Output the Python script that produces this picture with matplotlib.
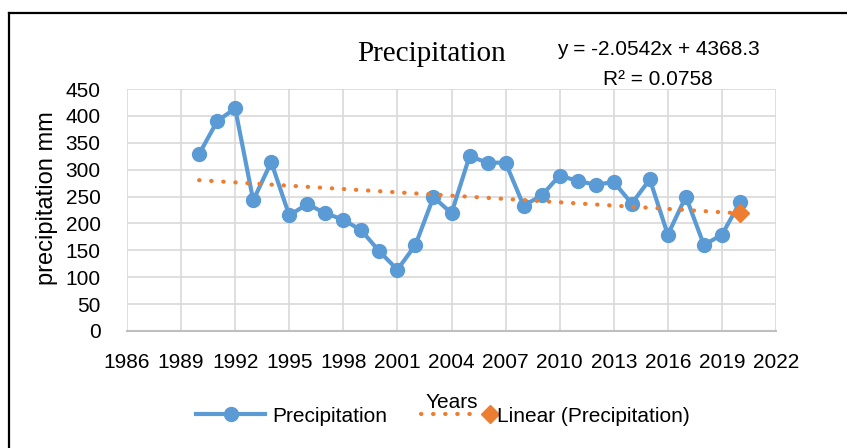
import matplotlib.pyplot as plt
from matplotlib.lines import Line2D
from matplotlib.legend_handler import HandlerLine2D

years = list(range(1990, 2021))
precip = [329, 390, 414, 243, 314, 215, 236, 219, 207, 187, 148, 114, 160, 249, 219,
          325, 313, 313, 233, 252, 289, 279, 272, 277, 237, 282, 179, 250, 160, 179, 239]

# trendline as printed on the chart
slope = -2.0542
intercept = 4368.3
trend_years = [1990, 2020]

x_ticks = list(range(1986, 2023, 3))
y_ticks = list(range(0, 451, 50))

blue = "#5B9BD5"
orange = "#ED7D31"
sans = ["Liberation Sans", "DejaVu Sans"]


class EndMarkerHandler(HandlerLine2D):
    # excel puts the trendline marker at the right end of the legend key
    def create_artists(self, legend, orig_handle, xdescent, ydescent, width, height,
                       fontsize, trans):
        y = (height - ydescent) / 2
        line = Line2D([-xdescent, -xdescent + width - 10], [y, y])
        self.update_prop(line, orig_handle, legend)
        line.set_marker("None")
        line.set_transform(trans)
        mark = Line2D([-xdescent + width], [y])
        self.update_prop(mark, orig_handle, legend)
        mark.set_linestyle("None")
        mark.set_markevery(None)
        mark.set_transform(trans)
        return [line, mark]


plt.rcParams["font.family"] = sans

fig = plt.figure(figsize=(8.47, 4.48), dpi=100)
ax = fig.add_axes([127 / 847, 1 - 331 / 448, 649 / 847, 242 / 448])

trend = [slope * y + intercept for y in trend_years]

ax.plot(years, precip, color=blue, lw=3, marker="o", ms=10, label="Precipitation",
        zorder=3)
trend_line, = ax.plot(trend_years, trend, color=orange, lw=3, dashes=(0.1, 2.8),
                      dash_capstyle="round", marker="D", ms=9, markevery=[-1],
                      label="Linear (Precipitation)", zorder=4)

ax.set_xlim(1986, 2022)
ax.set_ylim(0, 450)
ax.set_xticks(x_ticks)
ax.set_yticks(y_ticks)
ax.tick_params(length=0, labelsize=15, colors="black")
ax.tick_params(axis="y", pad=19)
ax.tick_params(axis="x", pad=16)
ax.grid(True, color="#D9D9D9", lw=1.2)
ax.set_axisbelow(True)
for s in ["left", "right", "top"]:
    ax.spines[s].set_visible(False)
ax.spines["bottom"].set_color("#BFBFBF")
ax.spines["bottom"].set_linewidth(1.5)

ax.set_xlabel("Years", fontsize=15)
ax.xaxis.set_label_coords(0.5, -0.255)
fig.text(47 / 847, 1 - 198 / 448, "precipitation mm", rotation=90, fontsize=17,
         ha="center", va="center")

fig.text(432 / 847, 1 - 61 / 448, "Precipitation", family="Liberation Serif",
         fontsize=21, ha="center", va="baseline")
fig.text(658 / 847, 1 - 55 / 448, "y = -2.0542x + 4368.3", fontsize=15,
         ha="center", va="baseline")
fig.text(658 / 847, 1 - 85 / 448, "R² = 0.0758", fontsize=15,
         ha="center", va="baseline")

handles, labels = ax.get_legend_handles_labels()
fig.legend(handles, labels, loc="center", bbox_to_anchor=(443 / 847, 1 - 416 / 448),
           ncol=2, frameon=False, fontsize=15, handlelength=3.3, handletextpad=0.35,
           columnspacing=1.6, borderpad=0,
           handler_map={trend_line: EndMarkerHandler()})

# outer chart frame (cropped on right and bottom)
fig.add_artist(Line2D([9 / 847, 9 / 847], [0, 1 - 13 / 448], transform=fig.transFigure,
                      color="black", lw=1.6))
fig.add_artist(Line2D([9 / 847, 1], [1 - 13 / 448, 1 - 13 / 448],
                      transform=fig.transFigure, color="black", lw=1.6))

plt.savefig("out.png", dpi=100)
